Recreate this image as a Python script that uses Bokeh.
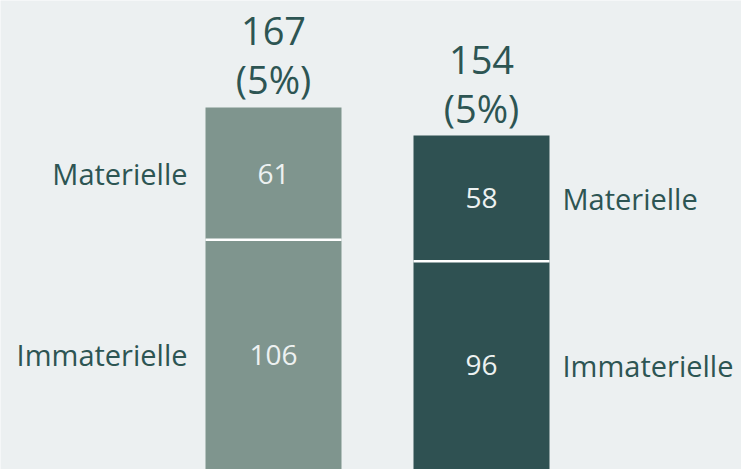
from bokeh.plotting import figure
from bokeh.models import Range1d, ColumnDataSource
from bokeh.core.properties import value
from bokeh.embed import file_html
from bokeh.resources import INLINE

# ---- data ----
bars = ["Bar 1", "Bar 2"]
materielle = [61, 58]
immaterielle = [106, 96]
totals = [167, 154]
shares = ["(5%)", "(5%)"]
segment_names = ["Materielle", "Immaterielle"]
bar_colors = ["#7f958e", "#2f5152"]

# ---- layout ----
W, H = 741, 469
BG = "#ecf0f1"
TXT = "#2d5553"
LIGHT = "#edf1f1"
FONT = "Open Sans"

x_pos = list(range(len(bars)))
c0, step = 273.0, 208.0            # pixel centre of first bar and bar spacing
x_start = -c0 / step
x_end = x_start + W / step
bar_w = 136.0 / step
y_end = 216.3
PX = y_end / H                      # data units per pixel
XPX = 1.0 / step

stack_top = [a + b for a, b in zip(immaterielle, materielle)]

src = ColumnDataSource(dict(
    x=x_pos,
    imm=immaterielle,
    mat=materielle,
    top=stack_top,
    color=bar_colors,
    imm_mid=[v / 2 for v in immaterielle],
    mat_mid=[a + b / 2 for a, b in zip(immaterielle, materielle)],
    imm_lbl=[str(v) for v in immaterielle],
    mat_lbl=[str(v) for v in materielle],
    tot_lbl=[str(v) for v in totals],
    share=shares,
    tot_y=[t + 76 * PX for t in totals],
    share_y=[t + 28 * PX for t in totals],
    x0=[x - bar_w / 2 for x in x_pos],
    x1=[x + bar_w / 2 for x in x_pos],
))

p = figure(width=W, height=H, output_backend="svg", toolbar_location=None,
           x_range=Range1d(x_start, x_end), y_range=Range1d(0, y_end),
           x_axis_type=None, y_axis_type=None, min_border=0)
p.background_fill_color = BG
p.border_fill_color = BG
p.outline_line_color = None
p.grid.visible = False

p.vbar(x="x", width=bar_w, bottom=0, top="imm", fill_color="color",
       line_color=None, source=src)
p.vbar(x="x", width=bar_w, bottom="imm", top="top", fill_color="color",
       line_color=None, source=src)
p.segment(x0="x0", x1="x1", y0="imm", y1="imm", line_color="#ffffff",
          line_width=2.5, source=src)

# segment values
p.text(x="x", y="mat_mid", text="mat_lbl", text_align="center",
       text_baseline="middle", text_color=LIGHT, text_font=value(FONT),
       text_font_size="28px", source=src)
p.text(x="x", y="imm_mid", text="imm_lbl", text_align="center",
       text_baseline="middle", text_color=LIGHT, text_font=value(FONT),
       text_font_size="28px", source=src)

# totals
p.text(x="x", y="tot_y", text="tot_lbl", text_align="center",
       text_baseline="middle", text_color=TXT, text_font=value(FONT),
       text_font_size="38px", source=src)
p.text(x="x", y="share_y", text="share", text_align="center",
       text_baseline="middle", text_color=TXT, text_font=value(FONT),
       text_font_size="38px", source=src)

# side labels: left of first bar, right of last bar
first, last = 0, len(bars) - 1
side = ColumnDataSource(dict(
    x=[x_pos[first] - bar_w / 2 - 18 * XPX] * 2,
    y=[src.data["mat_mid"][first], src.data["imm_mid"][first]],
    t=segment_names,
))
p.text(x="x", y="y", text="t", text_align="right", text_baseline="middle",
       text_color=TXT, text_font=value(FONT), text_font_size="29px", source=side)
side2 = ColumnDataSource(dict(
    x=[x_pos[last] + bar_w / 2 + 13 * XPX] * 2,
    y=[src.data["mat_mid"][last], src.data["imm_mid"][last]],
    t=segment_names,
))
p.text(x="x", y="y", text="t", text_align="left", text_baseline="middle",
       text_color=TXT, text_font=value(FONT), text_font_size="29px", source=side2)

html = file_html(p, INLINE)
html = html.replace("<body>", '<body style="margin:0;background:%s;overflow:hidden;">' % BG, 1)
open("out.html", "w").write(html)
